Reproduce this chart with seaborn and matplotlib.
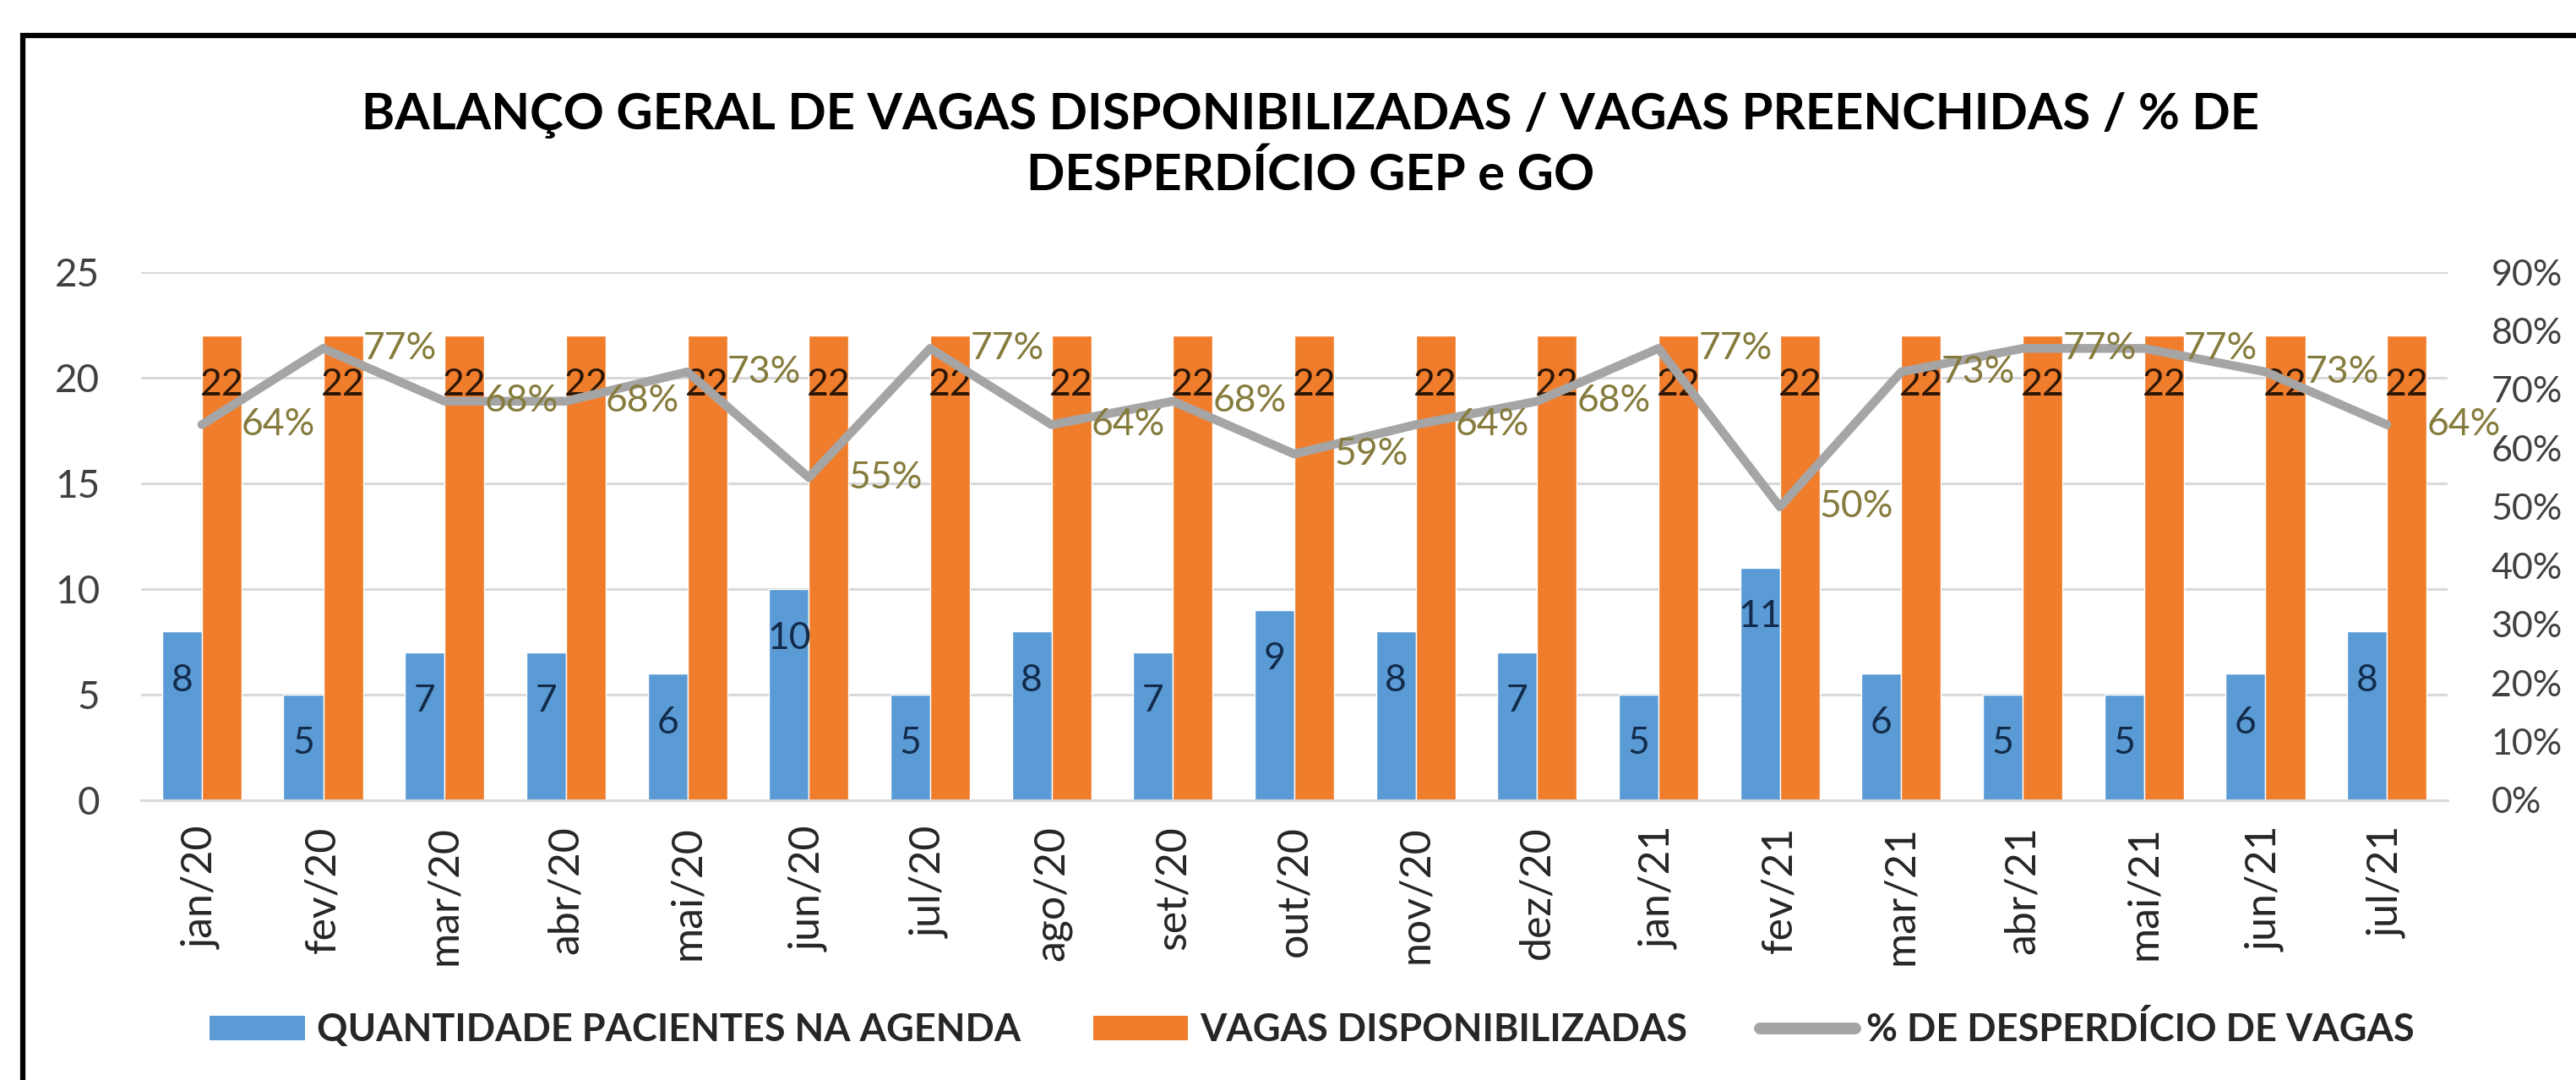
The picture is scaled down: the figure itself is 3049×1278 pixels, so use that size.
import numpy as np
import pandas as pd
import matplotlib
matplotlib.use("Agg")
import matplotlib.pyplot as plt
import seaborn as sns
from matplotlib.patches import Patch, Rectangle
from matplotlib.lines import Line2D
from matplotlib.ticker import PercentFormatter

# ---------------- data ----------------
meses = ["jan/20", "fev/20", "mar/20", "abr/20", "mai/20", "jun/20", "jul/20",
         "ago/20", "set/20", "out/20", "nov/20", "dez/20", "jan/21", "fev/21",
         "mar/21", "abr/21", "mai/21", "jun/21", "jul/21"]
pacientes = [8, 5, 7, 7, 6, 10, 5, 8, 7, 9, 8, 7, 5, 11, 6, 5, 5, 6, 8]
vagas = [22, 22, 22, 22, 22, 22, 22, 22, 22, 22, 22, 22, 22, 22, 22, 22, 22, 22, 22]
desperdicio = [0.64, 0.77, 0.68, 0.68, 0.73, 0.55, 0.77, 0.64, 0.68, 0.59, 0.64,
               0.68, 0.77, 0.50, 0.73, 0.77, 0.77, 0.73, 0.64]

serie_pac = "QUANTIDADE PACIENTES NA AGENDA"
serie_vag = "VAGAS DISPONIBILIZADAS"
serie_pct = "% DE DESPERDÍCIO DE VAGAS"
titulo = "BALANÇO GERAL DE VAGAS DISPONIBILIZADAS / VAGAS PREENCHIDAS / % DE\nDESPERDÍCIO GEP e GO"

# ---------------- style ----------------
BLUE = "#5B9BD5"
ORANGE = "#F07D2C"
GRAY = "#A5A5A5"
GRID = "#D9D9D9"
OLIVE = "#857B3C"
TXT = "#404040"

sns.set_theme(style="white")
plt.rcParams["font.family"] = ["Lato", "DejaVu Sans"]

W, H = 3049, 1278
fig = plt.figure(figsize=(W / 100, H / 100), dpi=100)
fig.patch.set_facecolor("white")

left, right, bottom, top = 167, 2897, 947, 322
ax = fig.add_axes([left / W, 1 - bottom / H, (right - left) / W, (bottom - top) / H])

df = pd.DataFrame({
    "mes": meses * 2,
    "valor": pacientes + vagas,
    "serie": [serie_pac] * len(meses) + [serie_vag] * len(meses),
})

sns.barplot(data=df, x="mes", y="valor", hue="serie", order=meses,
            hue_order=[serie_pac, serie_vag], palette=[BLUE, ORANGE],
            saturation=1, width=0.655, gap=0, legend=False, ax=ax, zorder=2)

ax.set_ylim(0, 25)
ax.set_yticks(range(0, 26, 5))
ax.set_xlim(-0.5, len(meses) - 0.5)
ax.set_xlabel("")
ax.set_ylabel("")
ax.grid(axis="y", color=GRID, linewidth=2.2, zorder=0)
ax.set_axisbelow(True)
for s in ["top", "right", "left"]:
    ax.spines[s].set_visible(False)
ax.spines["bottom"].set_color(GRID)
ax.spines["bottom"].set_linewidth(2.2)

ax.tick_params(axis="y", length=0, pad=35, labelsize=33, labelcolor=TXT)
ax.tick_params(axis="x", which="major", length=0, pad=22, labelsize=36,
               labelcolor="#262626", rotation=90)
ax.set_xticks(np.arange(len(meses) + 1) - 0.5, minor=True)
ax.tick_params(axis="x", which="minor", length=12, width=2, color=GRID, direction="out")

label_colors = ["#132b4a", "#2b1606"]
for cont, col in zip(ax.containers, label_colors):
    texts = ax.bar_label(cont, padding=-27, fontsize=32, color=col)
    for t in texts:
        t.set_va("top")

# ---------------- line on secondary axis ----------------
ax2 = ax.twinx()
sns.lineplot(x=np.arange(len(meses)), y=desperdicio, ax=ax2, color=GRAY,
             linewidth=7.5, zorder=3, legend=False)
ax2.set_ylim(0, 0.9)
ax2.set_yticks(np.arange(0, 0.91, 0.1))
ax2.yaxis.set_major_formatter(PercentFormatter(1.0, decimals=0))
ax2.tick_params(axis="y", length=0, pad=37, labelsize=31, labelcolor=TXT)
ax2.set_xlim(-0.5, len(meses) - 0.5)
for s in ["top", "right", "left", "bottom"]:
    ax2.spines[s].set_visible(False)
ax2.grid(False)

for i, v in enumerate(desperdicio):
    ax2.annotate(f"{v:.0%}", (i, v), xytext=(34, 0), textcoords="offset points",
                 ha="left", va="center", fontsize=32, color=OLIVE, zorder=5)

# ---------------- title ----------------
fig.text(1551 / W, 1 - 172 / H, titulo, ha="center", va="center", fontsize=43,
         fontweight="bold", color="black", linespacing=1.35)

# ---------------- legend ----------------
handles = [Patch(facecolor=BLUE, edgecolor="none"),
           Patch(facecolor=ORANGE, edgecolor="none"),
           Line2D([0], [0], color=GRAY, linewidth=10)]
fig.legend(handles, [serie_pac, serie_vag, serie_pct], loc="center",
           bbox_to_anchor=(1553 / W, 1 - 1219 / H), ncol=3, frameon=False,
           prop={"size": 32.5, "weight": "bold"}, handlelength=2.5, handleheight=0.6,
           handletextpad=0.3, columnspacing=1.9)

# ---------------- outer frame ----------------
fig.patches.append(Rectangle((27 / W, -0.2), 1.2, 1.2 - 42 / H,
                             transform=fig.transFigure, fill=False,
                             edgecolor="black", linewidth=4.5, zorder=10))

fig.savefig("out.png", dpi=100, facecolor="white")
